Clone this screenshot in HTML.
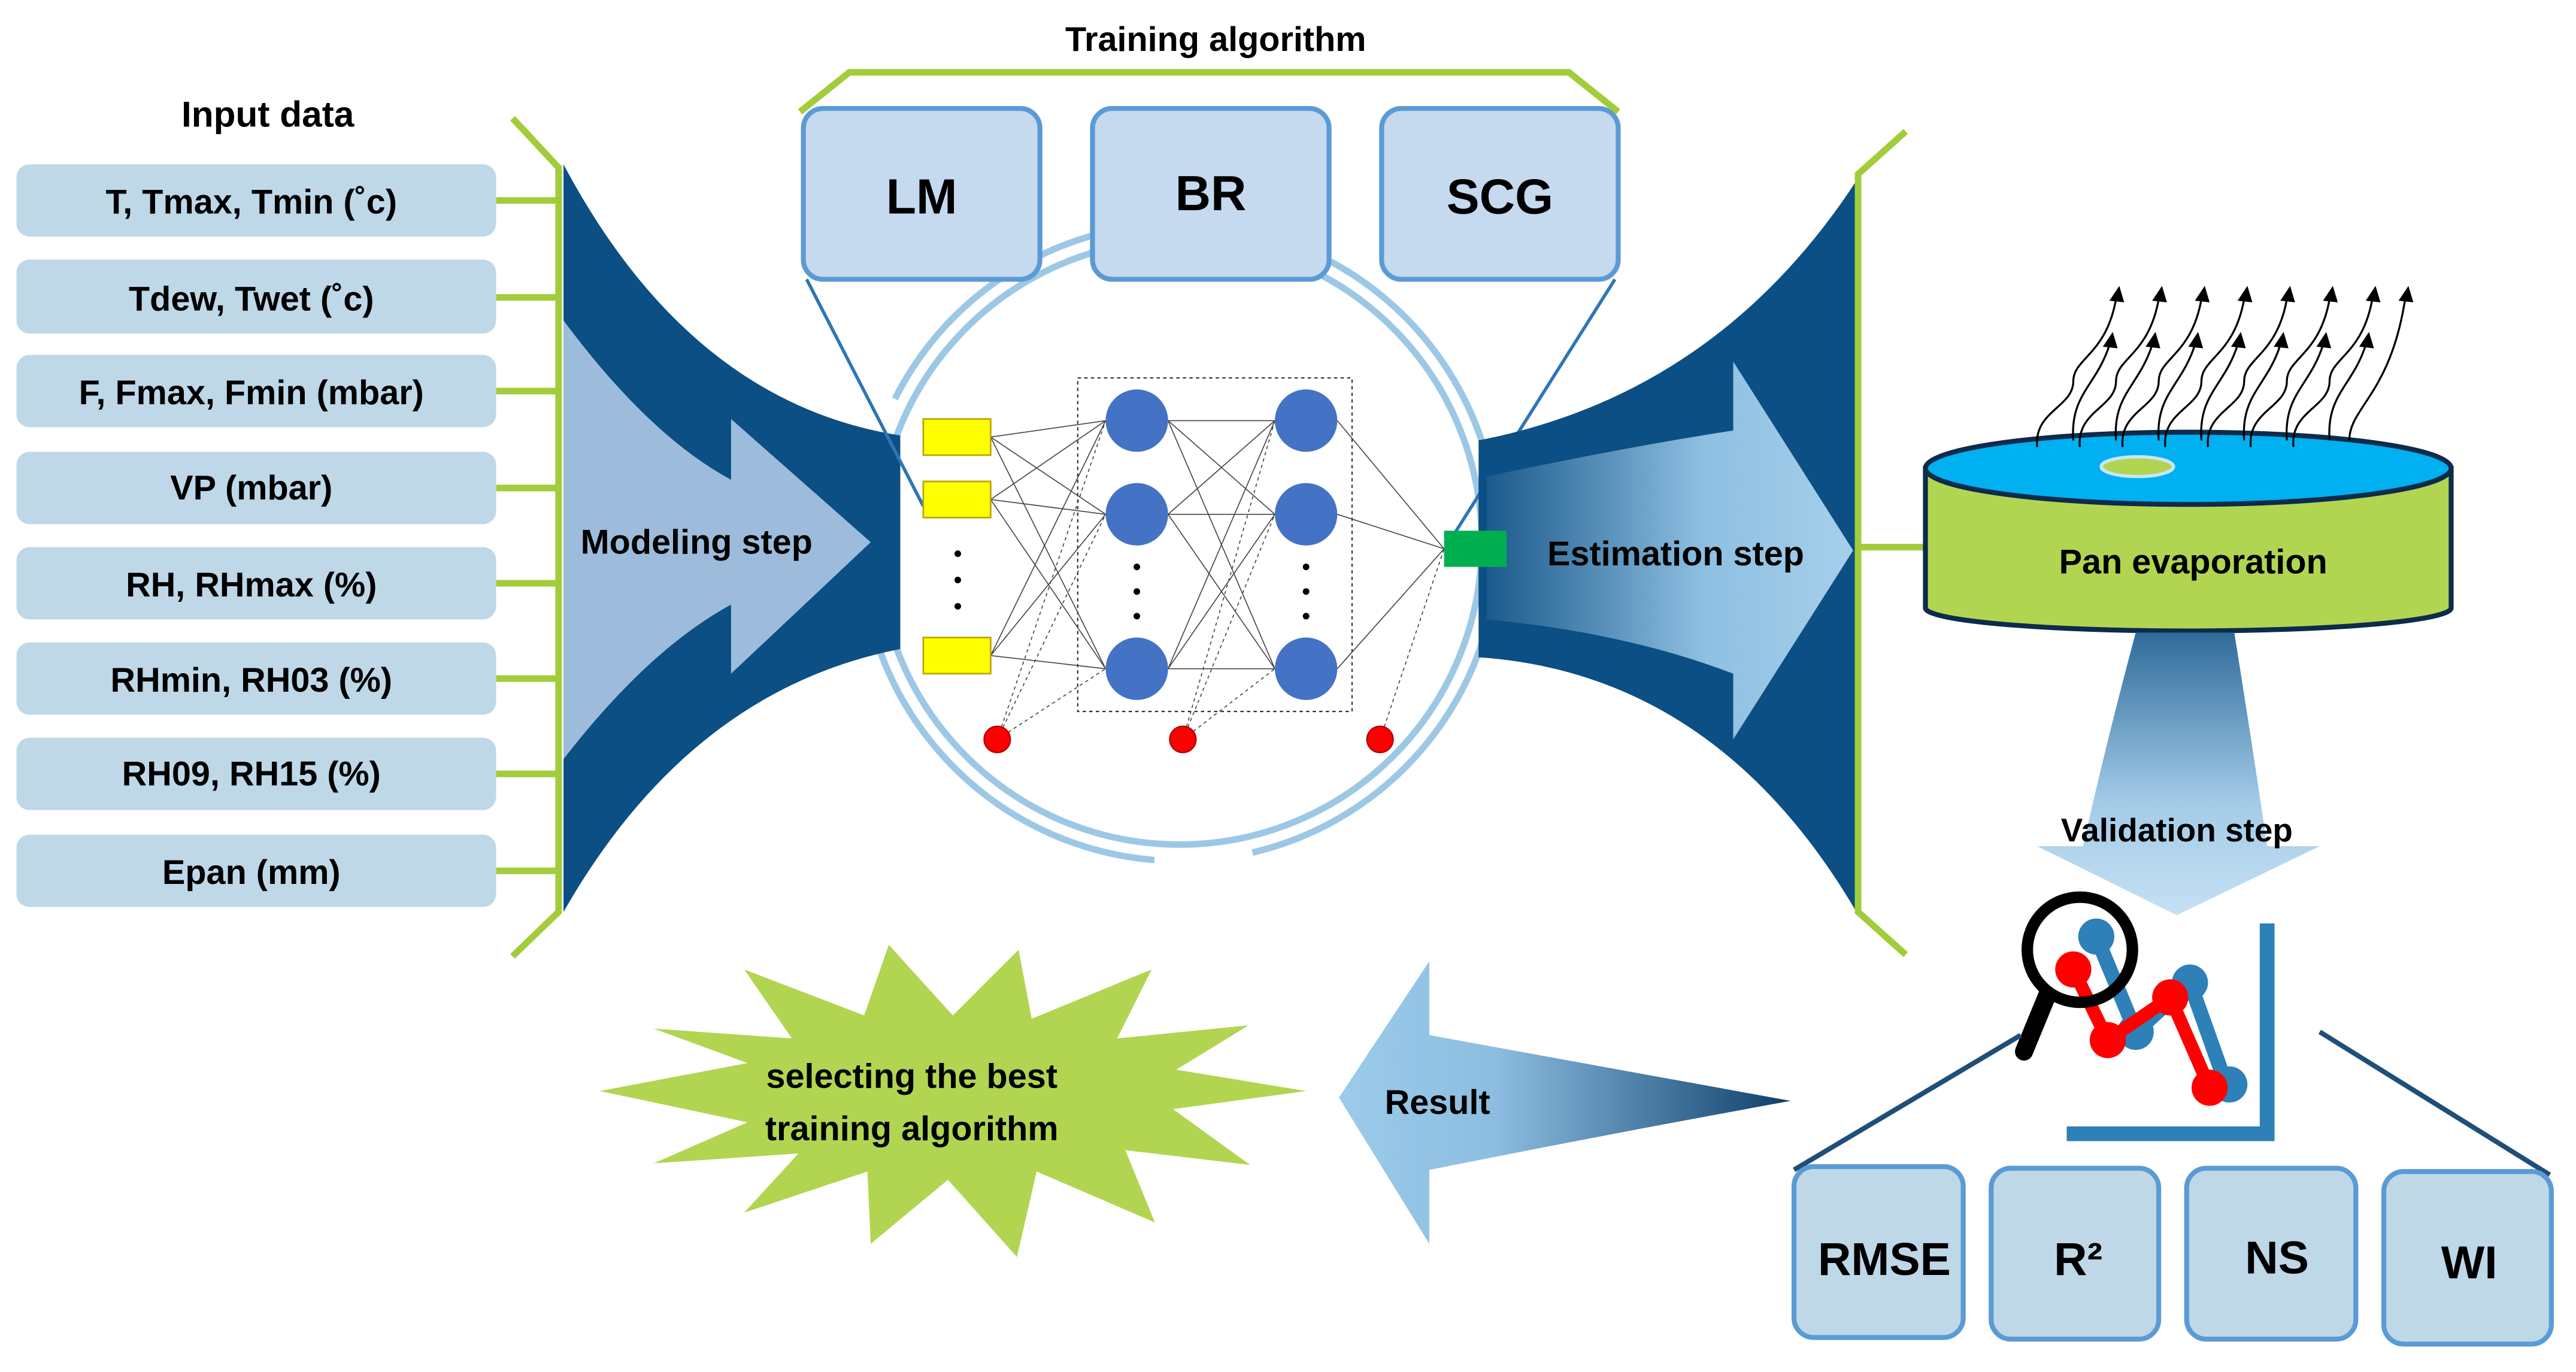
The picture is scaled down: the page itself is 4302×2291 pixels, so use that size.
<!DOCTYPE html>
<html><head><meta charset="utf-8"><style>
html,body{margin:0;padding:0;background:#fff;}
svg{display:block;}
text{font-family:"Liberation Sans",sans-serif;font-weight:bold;fill:#000;}
</style></head><body>
<svg width="4302" height="2291" viewBox="0 0 1568 835" preserveAspectRatio="none" xmlns="http://www.w3.org/2000/svg">
<defs>
<linearGradient id="est" x1="0" x2="1" y1="0" y2="0"><stop offset="0" stop-color="#1b5a8c"/><stop offset="0.6" stop-color="#8fc0e2"/><stop offset="1" stop-color="#a6cfea"/></linearGradient>
<linearGradient id="res" x1="0" x2="1" y1="0" y2="0"><stop offset="0" stop-color="#9ccbea"/><stop offset="0.35" stop-color="#8cbde0"/><stop offset="1" stop-color="#0e3f6a"/></linearGradient>
<linearGradient id="val" x1="0" x2="0" y1="0" y2="1"><stop offset="0" stop-color="#2f6b9a"/><stop offset="0.6" stop-color="#a3cbe8"/><stop offset="1" stop-color="#c5e0f3"/></linearGradient>
</defs>

<!-- Input data -->
<text x="163" y="77" font-size="22" text-anchor="middle">Input data</text>
<g fill="#bed8e8">
<rect x="10" y="100" width="292" height="44" rx="8"/>
<rect x="10" y="158" width="292" height="45" rx="8"/>
<rect x="10" y="216" width="292" height="44" rx="8"/>
<rect x="10" y="275" width="292" height="44" rx="8"/>
<rect x="10" y="333" width="292" height="44" rx="8"/>
<rect x="10" y="391" width="292" height="44" rx="8"/>
<rect x="10" y="449" width="292" height="44" rx="8"/>
<rect x="10" y="508" width="292" height="44" rx="8"/>
</g>
<g font-size="21" text-anchor="middle">
<text x="153" y="130">T, Tmax, Tmin (˚c)</text>
<text x="153" y="189">Tdew, Twet (˚c)</text>
<text x="153" y="246">F, Fmax, Fmin (mbar)</text>
<text x="153" y="304">VP (mbar)</text>
<text x="153" y="363">RH, RHmax (%)</text>
<text x="153" y="421">RHmin, RH03 (%)</text>
<text x="153" y="478">RH09, RH15 (%)</text>
<text x="153" y="538">Epan (mm)</text>
</g>
<g stroke="#a2cc3a" stroke-width="4" fill="none">
<path d="M312,72 L340,102 L340,555 L312,582"/>
<path d="M302,122H340M302,181H340M302,238H340M302,297H340M302,355H340M302,413H340M302,471H340M302,530H340"/>
</g>

<!-- central circle -->
<circle cx="718" cy="330" r="182" fill="#fff"/>
<circle cx="718" cy="330" r="184" fill="none" stroke="#9cc8e6" stroke-width="4"/>
<circle cx="718" cy="330" r="194" fill="none" stroke="#9cc8e6" stroke-width="4" stroke-dasharray="260 60 300 80 250 60 300 100"/>

<!-- left funnel -->
<path d="M343,100 Q420,245 548,265 L548,395 Q420,420 343,555 Z" fill="#0b4f84"/>
<path d="M343,195 Q395,265 445,292 L445,255 L530,330 L445,410 L445,368 Q395,395 343,462 Z" fill="#9dbcdc"/>
<text x="424" y="337" font-size="21" text-anchor="middle">Modeling step</text>

<!-- Training algorithm -->
<text x="740" y="31" font-size="21" text-anchor="middle">Training algorithm</text>
<path d="M487,68 L517,44 L955,44 L985,68" stroke="#a2cc3a" stroke-width="4" fill="none"/>
<g fill="#c5d9ef" stroke="#5b9bd5" stroke-width="3">
<rect x="489" y="66" width="144" height="104" rx="12"/>
<rect x="665" y="66" width="144" height="104" rx="12"/>
<rect x="841" y="66" width="144" height="104" rx="12"/>
</g>
<g font-size="30" text-anchor="middle">
<text x="561" y="130">LM</text><text x="737" y="128">BR</text><text x="913" y="130">SCG</text>
</g>
<path d="M491,170 L562,308 M983,170 L882,330" stroke="#2e75b6" stroke-width="2" fill="none"/>

<!-- neural network -->
<rect x="656" y="230" width="167" height="203" fill="none" stroke="#333" stroke-width="0.8" stroke-dasharray="2 2"/>
<g stroke="#444" stroke-width="0.6">
<path d="M603,266L673,256M603,266L673,313M603,266L673,407M603,304L673,256M603,304L673,313M603,304L673,407M603,399L673,256M603,399L673,313M603,399L673,407"/>
<path d="M711,256L776,256M711,256L776,313M711,256L776,407M711,313L776,256M711,313L776,313M711,313L776,407M711,407L776,256M711,407L776,313M711,407L776,407"/>
<path d="M814,256L879,334M814,313L879,334M814,407L879,334"/>
<path d="M607,450L673,256M607,450L673,313M607,450L673,407M720,450L776,256M720,450L776,313M720,450L776,407M840,450L879,334" stroke-dasharray="2 2"/>
</g>
<g fill="#ffff00" stroke="#b8a800" stroke-width="1">
<rect x="562" y="255" width="41" height="22"/><rect x="562" y="293" width="41" height="22"/><rect x="562" y="388" width="41" height="22"/>
</g>
<g fill="#4472c4">
<circle cx="692" cy="256" r="19"/><circle cx="692" cy="313" r="19"/><circle cx="692" cy="407" r="19"/>
<circle cx="795" cy="256" r="19"/><circle cx="795" cy="313" r="19"/><circle cx="795" cy="407" r="19"/>
</g>
<g fill="#000">
<circle cx="583" cy="337" r="2"/><circle cx="583" cy="353" r="2"/><circle cx="583" cy="369" r="2"/>
<circle cx="692" cy="345" r="2"/><circle cx="692" cy="360" r="2"/><circle cx="692" cy="375" r="2"/>
<circle cx="795" cy="345" r="2"/><circle cx="795" cy="360" r="2"/><circle cx="795" cy="375" r="2"/>
</g>
<g fill="#ff0000" stroke="#a00" stroke-width="0.8">
<circle cx="607" cy="450" r="8"/><circle cx="720" cy="450" r="8"/><circle cx="840" cy="450" r="8"/>
</g>

<!-- right funnel -->
<path d="M900,268 Q1045,240 1130,110 L1130,555 Q1045,410 900,400 Z" fill="#0b4f84"/>
<path d="M905,290 Q990,272 1055,262 L1055,220 L1128,335 L1055,450 L1055,410 Q990,385 905,377 Z" fill="url(#est)"/>
<rect x="879" y="323" width="38" height="22" fill="#00b050"/>
<text x="1020" y="344" font-size="21" text-anchor="middle">Estimation step</text>
<path d="M1160,80 L1131,106 L1131,555 L1160,581 M1131,333 L1172,333" stroke="#a2cc3a" stroke-width="4" fill="none"/>

<!-- pan -->
<path d="M1172,285 L1172,370 A160,14 0 0 0 1492,370 L1492,285 Z" fill="#b1d551" stroke="#0d2b4a" stroke-width="3"/>
<ellipse cx="1332" cy="285" rx="160" ry="22" fill="#00b0f0" stroke="#0d2b4a" stroke-width="3"/>
<ellipse cx="1301" cy="284" rx="22" ry="6" fill="#b1d551" stroke="#c9e6f5" stroke-width="2"/>
<text x="1335" y="349" font-size="21" text-anchor="middle">Pan evaporation</text>
<g stroke="#000" stroke-width="1.2" fill="none">
<path d="M1240,272 C1238,250 1262,248 1262,232 C1262,218 1282,216 1288,182"/>
<path d="M1266,272 C1264,250 1288,248 1288,232 C1288,218 1308,216 1314,182"/>
<path d="M1292,272 C1290,250 1314,248 1314,232 C1314,218 1334,216 1340,182"/>
<path d="M1318,272 C1316,250 1340,248 1340,232 C1340,218 1360,216 1366,182"/>
<path d="M1344,272 C1342,250 1366,248 1366,232 C1366,218 1386,216 1392,182"/>
<path d="M1370,272 C1368,250 1392,248 1392,232 C1392,218 1412,216 1418,182"/>
<path d="M1396,272 C1394,250 1418,248 1418,232 C1418,218 1438,216 1444,182"/>
<path d="M1430,268 C1430,248 1455,240 1464,182"/>
<path d="M1262,268 C1260,240 1276,235 1284,210"/><path d="M1288,268 C1286,240 1302,235 1310,210"/>
<path d="M1314,268 C1312,240 1328,235 1336,210"/><path d="M1340,268 C1338,240 1354,235 1362,210"/>
<path d="M1366,268 C1364,240 1380,235 1388,210"/><path d="M1392,268 C1390,240 1406,235 1414,210"/>
<path d="M1418,268 C1416,240 1432,235 1440,210"/>
</g>
<g fill="#000">
<path d="M1290,174 l-6,9 l9,1z"/><path d="M1316,174 l-6,9 l9,1z"/><path d="M1342,174 l-6,9 l9,1z"/><path d="M1368,174 l-6,9 l9,1z"/><path d="M1394,174 l-6,9 l9,1z"/><path d="M1420,174 l-6,9 l9,1z"/><path d="M1446,174 l-6,9 l9,1z"/><path d="M1466,174 l-6,9 l9,1z"/>
<path d="M1286,202 l-6,9 l9,1z"/><path d="M1312,202 l-6,9 l9,1z"/><path d="M1338,202 l-6,9 l9,1z"/><path d="M1364,202 l-6,9 l9,1z"/><path d="M1390,202 l-6,9 l9,1z"/><path d="M1416,202 l-6,9 l9,1z"/><path d="M1442,202 l-6,9 l9,1z"/>
</g>

<!-- validation arrow -->
<path d="M1300,385 L1360,385 Q1372,460 1380,515 L1412,515 L1325,557 L1240,515 L1268,515 Q1280,460 1300,385 Z" fill="url(#val)"/>
<text x="1325" y="512" font-size="20" text-anchor="middle">Validation step</text>

<!-- chart icon -->
<path d="M1380,562 L1380,690 L1258,690" stroke="#2e80b8" stroke-width="9" fill="none"/>
<path d="M1276,570 L1300,628 L1333,598 L1355,660" stroke="#2e80b8" stroke-width="9" fill="none"/>
<g fill="#2e80b8"><circle cx="1276" cy="570" r="11"/><circle cx="1300" cy="628" r="11"/><circle cx="1333" cy="598" r="11"/><circle cx="1357" cy="660" r="11"/></g>
<path d="M1262,590 L1283,633 L1321,607 L1345,662" stroke="#ff0000" stroke-width="8" fill="none"/>
<g fill="#ff0000"><circle cx="1262" cy="590" r="11"/><circle cx="1283" cy="633" r="11"/><circle cx="1321" cy="607" r="11"/><circle cx="1345" cy="662" r="11"/></g>
<circle cx="1266" cy="578" r="32" fill="none" stroke="#000" stroke-width="7"/>
<path d="M1246,606 L1232,640" stroke="#000" stroke-width="11" stroke-linecap="round"/>
<path d="M1230,630 L1092,712 M1412,628 L1552,715" stroke="#1f4e79" stroke-width="3"/>

<!-- metric boxes -->
<g fill="#bed8e8" stroke="#5b9bd5" stroke-width="3">
<rect x="1092" y="710" width="103" height="104" rx="12"/>
<rect x="1212" y="711" width="102" height="104" rx="12"/>
<rect x="1331" y="711" width="103" height="104" rx="12"/>
<rect x="1451" y="713" width="102" height="105" rx="12"/>
</g>
<g font-size="28" text-anchor="middle">
<text x="1147" y="776">RMSE</text><text x="1265" y="776">R²</text><text x="1386" y="775">NS</text><text x="1503" y="778">WI</text>
</g>

<!-- Result arrow -->
<path d="M815,668 L870,585 L870,630 Q980,650 1090,670 Q980,690 870,712 L870,757 Z" fill="url(#res)"/>
<text x="875" y="678" font-size="21" text-anchor="middle">Result</text>

<!-- starburst -->
<polygon fill="#b1d551" points="795,664 714,675 761,709 685,700 703,744 631,713 619,765 577,718 530,757 528,713 453,738 486,702 398,708 455,683 365,664 455,647 398,626 482,632 453,590 526,618 541,575 580,618 620,578 628,620 701,590 680,632 760,624 716,651"/>
<text x="555" y="662" font-size="21" text-anchor="middle">selecting the best</text>
<text x="555" y="694" font-size="21" text-anchor="middle">training algorithm</text>
</svg>
</body></html>
